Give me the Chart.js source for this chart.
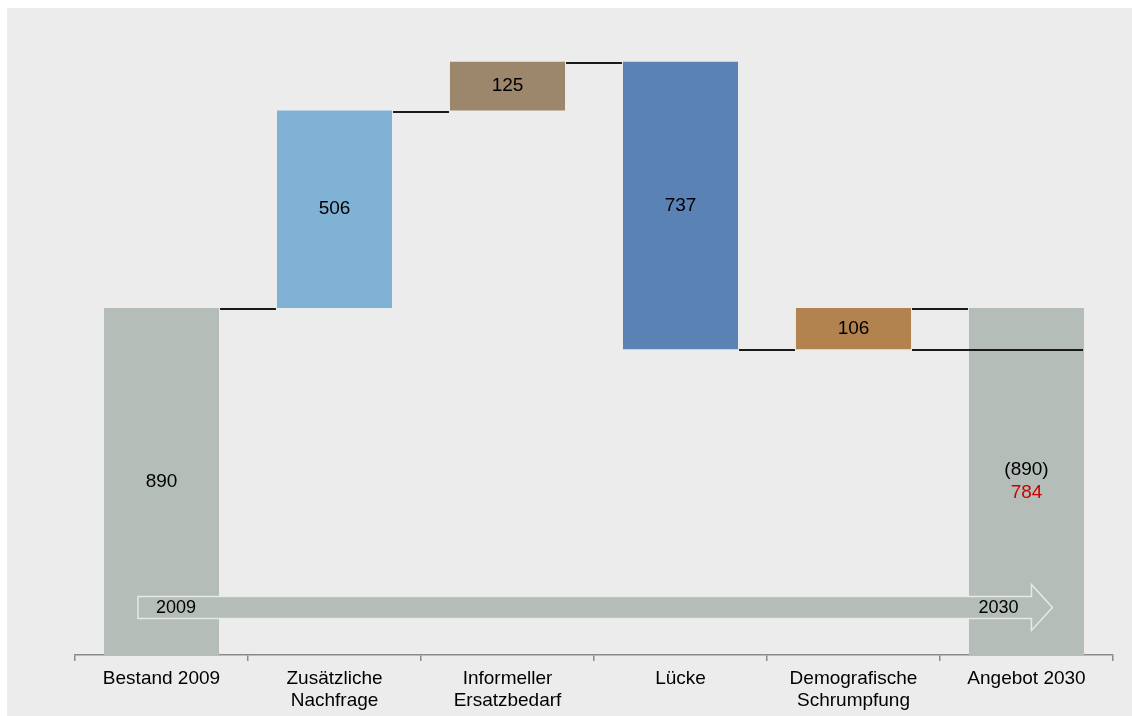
<!DOCTYPE html>
<html>
<head>
<meta charset="utf-8">
<script src="https://cdn.jsdelivr.net/npm/chart.js@4/dist/chart.umd.min.js"></script>
<style>
  html, body { margin: 0; padding: 0; background: #ffffff; }
  #wrap { width: 1132px; height: 716px; }
</style>
</head>
<body>
<div id="wrap"><canvas id="c" width="1132" height="716"></canvas></div>
<script>
// ---- data ----
const categories = [["Bestand 2009"], ["Zusätzliche", "Nachfrage"], ["Informeller", "Ersatzbedarf"], ["Lücke"], ["Demografische", "Schrumpfung"], ["Angebot 2030"]];
const barStarts = [0, 890, 1396, 784, 784, 0];
const barEnds   = [890, 1396, 1521, 1521, 890, 890];
const barLabels = [["890"], ["506"], ["125"], ["737"], ["106"], ["(890)", "784"]];
const barColors = ["#b5bdb9", "#80b2d6", "#9c876c", "#5a82b5", "#b3834f", "#b5bdb9"];
// connectors: [from bar index, to bar index, value, extendAcrossTarget]
const connectors = [[0, 1, 890, false], [1, 2, 1396, false], [2, 3, 1521, false], [3, 4, 784, false], [4, 5, 890, false], [4, 5, 784, true]];
const arrowLabels = ["2009", "2030"];
const arrowValue = 122;

const FONT = "'Liberation Sans', Arial, sans-serif";

const bgPlugin = {
  id: 'bg',
  beforeDraw(chart) {
    const ctx = chart.ctx;
    ctx.save();
    ctx.fillStyle = '#ffffff';
    ctx.fillRect(0, 0, chart.width, chart.height);
    ctx.fillStyle = '#ececec';
    ctx.fillRect(7, 8, chart.width - 7, chart.height - 8);
    ctx.restore();
  }
};

const overlayPlugin = {
  id: 'overlay',
  afterDatasetsDraw(chart) {
    const ctx = chart.ctx;
    const meta = chart.getDatasetMeta(0);
    const y = chart.scales.y, x = chart.scales.x;
    ctx.save();
    // connectors
    ctx.strokeStyle = '#1a1a1a';
    ctx.lineWidth = 2;
    connectors.forEach(([a, b, v, across]) => {
      const ba = meta.data[a], bb = meta.data[b];
      const x1 = ba.x + ba.width / 2 + 1;
      const x2 = across ? bb.x + bb.width / 2 - 1 : bb.x - bb.width / 2 - 1;
      const py = Math.round(y.getPixelForValue(v)) + 1;
      ctx.beginPath(); ctx.moveTo(x1, py); ctx.lineTo(x2, py); ctx.stroke();
    });
    // arrow
    const catW = x.getPixelForValue(1) - x.getPixelForValue(0);
    const ax0 = x.getPixelForValue(0) - 0.136 * catW;
    const tip = x.getPixelForValue(5) + 0.15 * catW;
    const headStart = tip - 21;
    const ay = y.getPixelForValue(arrowValue);
    const bh = 11, hh = 23;
    ctx.beginPath();
    ctx.moveTo(ax0, ay - bh);
    ctx.lineTo(headStart, ay - bh);
    ctx.lineTo(headStart, ay - hh);
    ctx.lineTo(tip, ay);
    ctx.lineTo(headStart, ay + hh);
    ctx.lineTo(headStart, ay + bh);
    ctx.lineTo(ax0, ay + bh);
    ctx.closePath();
    ctx.fillStyle = '#b5bdb9';
    ctx.fill();
    ctx.strokeStyle = '#e6e9e7';
    ctx.lineWidth = 1.5;
    ctx.stroke();
    ctx.fillStyle = '#000000';
    ctx.font = '18px ' + FONT;
    ctx.textAlign = 'center';
    ctx.textBaseline = 'middle';
    ctx.fillText(arrowLabels[0], ax0 + 38, ay + 1);
    ctx.fillText(arrowLabels[1], headStart - 33, ay + 1);
    // bar labels
    ctx.font = '19px ' + FONT;
    meta.data.forEach((bar, i) => {
      const mid = (bar.y + bar.base) / 2;
      const lines = barLabels[i];
      const lh = 23;
      lines.forEach((t, k) => {
        ctx.fillStyle = (lines.length > 1 && k === 1) ? '#cc0000' : '#000000';
        ctx.fillText(t, bar.x, mid + (k - (lines.length - 1) / 2) * lh);
      });
    });
    ctx.restore();
  }
};

new Chart(document.getElementById('c'), {
  type: 'bar',
  data: {
    labels: categories,
    datasets: [{
      data: barStarts.map((s, i) => [s, barEnds[i]]),
      backgroundColor: barColors,
      borderWidth: 0,
      categoryPercentage: 1,
      barPercentage: 0.665
    }]
  },
  options: {
    responsive: false,
    animation: false,
    devicePixelRatio: 1,
    layout: { padding: { left: 75, right: 19, top: 31, bottom: 0 } },
    plugins: { legend: { display: false }, tooltip: { enabled: false } },
    scales: {
      y: { display: false, min: 0, max: 1600 },
      x: {
        offset: true,
        grid: { offset: true, drawOnChartArea: false, drawTicks: true, tickLength: 6, color: '#8a8a8a', lineWidth: 1.5 },
        border: { display: true, color: '#8a8a8a', width: 1.5 },
        ticks: { color: '#000000', font: { family: FONT, size: 19, lineHeight: 1.2 }, padding: 6, maxRotation: 0, autoSkip: false },
        afterFit(s) { s.height = 61; }
      }
    }
  },
  plugins: [bgPlugin, overlayPlugin]
});
</script>
</body>
</html>
